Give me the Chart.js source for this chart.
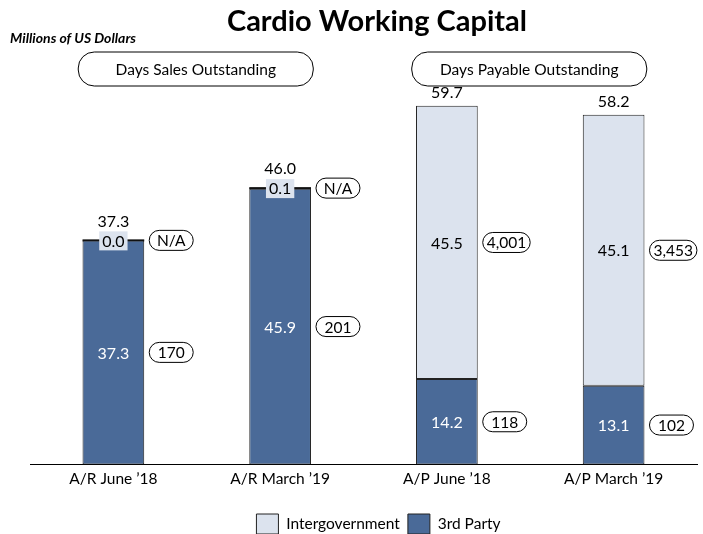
<!DOCTYPE html>
<html>
<head>
<meta charset="utf-8">
<script src="https://cdn.jsdelivr.net/npm/chart.js@4"></script>
<style>
  html, body { margin: 0; padding: 0; background: #fff; }
  #wrap { width: 703px; height: 534px; }
</style>
</head>
<body>
<div id="wrap"><canvas id="cardio"></canvas></div>
<script>
var categories = ["A/R June \u201918", "A/R March \u201919", "A/P June \u201918", "A/P March \u201919"];
var thirdParty = [37.3, 45.9, 14.2, 13.1];
var intergov = [0.0, 0.1, 45.5, 45.1];
var totals = [37.3, 46.0, 59.7, 58.2];
var daysThirdParty = ["170", "201", "118", "102"];
var daysIntergov = ["N/A", "N/A", "4,001", "3,453"];
var groupTitles = ["Days Sales Outstanding", "Days Payable Outstanding"];

var FONT = "Lato, 'Open Sans', sans-serif";
var DARK = '#4A6A98';
var LIGHT = '#DCE3EE';

// rounded label placed to the right of a bar edge
function pill(ctx, left, cy, text) {
  ctx.font = '15.5px ' + FONT;
  var w = Math.max(44, ctx.measureText(text).width + 8);
  var h = 20;
  ctx.beginPath();
  ctx.roundRect(left, cy - h / 2, w, h, h / 2);
  ctx.fillStyle = '#fff';
  ctx.fill();
  ctx.lineWidth = 1;
  ctx.strokeStyle = '#000';
  ctx.stroke();
  ctx.fillStyle = '#000';
  ctx.textAlign = 'center';
  ctx.textBaseline = 'middle';
  ctx.fillText(text, left + w / 2, cy + 1);
}

var labelsPlugin = {
  id: 'cardioLabels',
  afterLayout: function (chart) {
    // nudge the legend down and right, like the original slide
    var lg = chart.legend;
    if (lg) {
      lg.top += 10; lg.bottom += 10;
      lg.left += 15; lg.right += 15;
    }
  },
  afterDatasetsDraw: function (chart) {
    var ctx = chart.ctx;
    var y = chart.scales.y;
    var m3 = chart.getDatasetMeta(0); // third party
    ctx.save();
    for (var i = 0; i < categories.length; i++) {
      var bar = m3.data[i];
      var cx = bar.x;
      var right = cx + bar.width / 2;
      var mid3 = y.getPixelForValue(thirdParty[i] / 2);
      var top3 = y.getPixelForValue(thirdParty[i]);
      var topAll = y.getPixelForValue(thirdParty[i] + intergov[i]);
      var small = (topAll - top3) > -12;
      var midI = small ? topAll : y.getPixelForValue(thirdParty[i] + intergov[i] / 2);

      if (small) {
        // the tiny intergov segment shows as a heavy line on the bar top
        ctx.fillStyle = '#111';
        ctx.fillRect(bar.x - bar.width / 2, topAll - 1, bar.width, 2);
      }

      ctx.font = '16px ' + FONT;
      ctx.textAlign = 'center';
      ctx.textBaseline = 'middle';
      ctx.fillStyle = '#fff';
      ctx.fillText(thirdParty[i].toFixed(1), cx, mid3 + 1);

      var t = intergov[i].toFixed(1);
      if (small) {
        var tw = ctx.measureText(t).width;
        ctx.fillStyle = LIGHT;
        ctx.fillRect(cx - tw / 2 - 3, midI - 9, tw + 6, 19);
      }
      ctx.fillStyle = '#000';
      ctx.fillText(t, cx, midI + 1);
      ctx.fillText(totals[i].toFixed(1), cx, topAll - (small ? 19 : 13));

      pill(ctx, right + 5, mid3, daysThirdParty[i]);
      pill(ctx, right + 5, midI, daysIntergov[i]);
    }
    ctx.restore();
  },
  afterDraw: function (chart) {
    var ctx = chart.ctx;
    var m3 = chart.getDatasetMeta(0);
    ctx.save();
    ctx.fillStyle = '#000';
    ctx.textAlign = 'center';
    ctx.textBaseline = 'middle';
    ctx.font = 'bold 29px ' + FONT;
    ctx.fillText('Cardio Working Capital', 377, 22);
    ctx.textAlign = 'left';
    ctx.font = 'italic bold 14px ' + FONT;
    ctx.fillText('Millions of US Dollars', 10, 38);

    for (var g = 0; g < 2; g++) {
      var cx = (m3.data[g * 2].x + m3.data[g * 2 + 1].x) / 2 - 1;
      var w = 235, h = 34, x = cx - w / 2, yTop = 52;
      ctx.beginPath();
      ctx.roundRect(x, yTop, w, h, 16);
      ctx.lineWidth = 1;
      ctx.strokeStyle = '#000';
      ctx.stroke();
      ctx.font = '15.5px ' + FONT;
      ctx.textAlign = 'center';
      ctx.fillText(groupTitles[g], cx, yTop + h / 2 + 1);
    }
    ctx.restore();
  }
};

new Chart(document.getElementById('cardio').getContext('2d'), {
  type: 'bar',
  data: {
    labels: categories,
    datasets: [
      {
        label: '3rd Party',
        data: thirdParty,
        backgroundColor: DARK,
        borderColor: '#222',
        borderWidth: 1,
        borderSkipped: false,
        stack: 's'
      },
      {
        label: 'Intergovernment',
        data: intergov,
        backgroundColor: LIGHT,
        borderColor: '#222',
        borderWidth: 1,
        borderSkipped: false,
        stack: 's'
      }
    ]
  },
  options: {
    responsive: true,
    maintainAspectRatio: false,
    animation: false,
    datasets: { bar: { categoryPercentage: 1, barPercentage: 0.37 } },
    layout: { padding: { top: 74, left: 30, right: 6, bottom: 0 } },
    scales: {
      x: {
        stacked: true,
        grid: { display: false, drawTicks: false },
        border: { display: true, color: '#000', width: 1 },
        ticks: { color: '#000', font: { family: FONT, size: 15.5 }, padding: 5 },
        afterFit: function (scale) { scale.height += 3; }
      },
      y: {
        stacked: true,
        display: false,
        min: 0,
        max: 65
      }
    },
    plugins: {
      legend: {
        position: 'bottom',
        reverse: true,
        labels: {
          color: '#000',
          boxWidth: 22,
          boxHeight: 20,
          padding: 8,
          font: { family: FONT, size: 15.5 }
        }
      },
      tooltip: { enabled: false }
    }
  },
  plugins: [labelsPlugin]
});
</script>
</body>
</html>
